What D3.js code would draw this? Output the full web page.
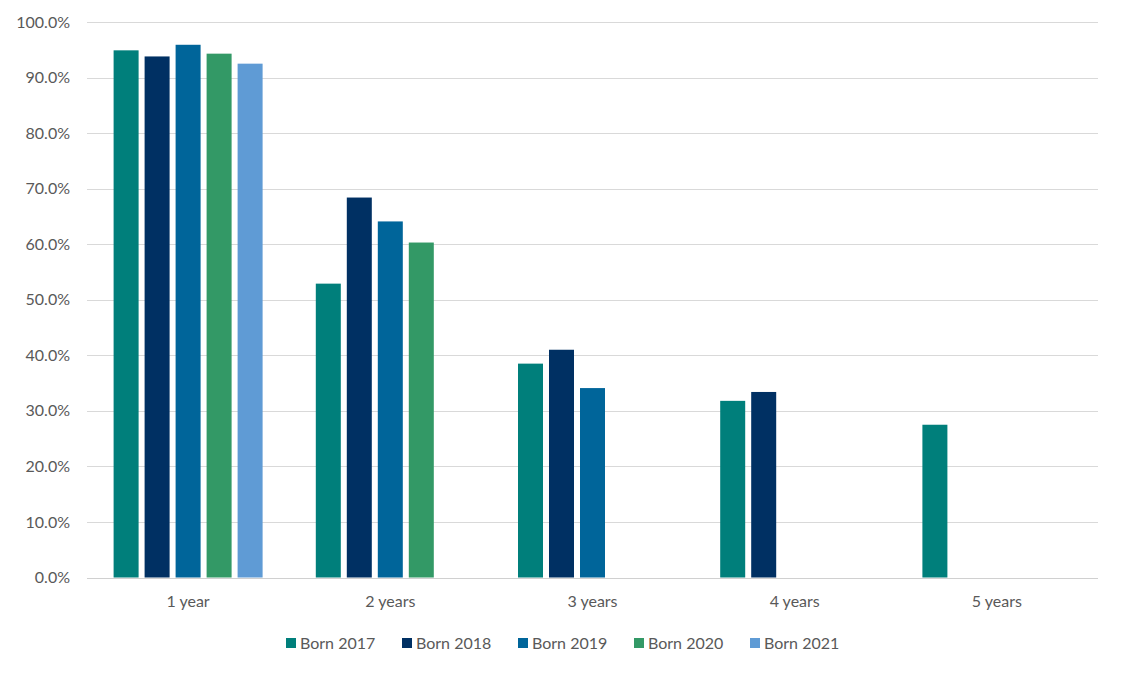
<!DOCTYPE html>
<html>
<head>
<meta charset="utf-8">
<script src="https://cdn.jsdelivr.net/npm/d3@7"></script>
<style>
  html, body { margin: 0; padding: 0; background: #fff; }
  svg text { font-family: Lato, "Open Sans", sans-serif; fill: #595959; }
</style>
</head>
<body>
<svg id="chart" width="1121" height="673"></svg>
<script>
const categories = ["1 year", "2 years", "3 years", "4 years", "5 years"];
const series = ["Born 2017", "Born 2018", "Born 2019", "Born 2020", "Born 2021"];
const born2017 = [94.9, 52.9, 38.5, 31.8, 27.5];
const born2018 = [93.8, 68.4, 41.0, 33.4, null];
const born2019 = [95.9, 64.1, 34.1, null, null];
const born2020 = [94.3, 60.3, null, null, null];
const born2021 = [92.5, null, null, null, null];
const yTicks = [0, 10, 20, 30, 40, 50, 60, 70, 80, 90, 100];
const colors = ["#007F7B", "#003063", "#00659A", "#339966", "#5F9BD5"];

const values = [born2017, born2018, born2019, born2020, born2021];

const svg = d3.select("#chart");
const mLeft = 87, mRight = 1098, mTop = 22, mBottom = 577.5;

const y = d3.scaleLinear().domain([0, 100]).range([mBottom, mTop]);
const x0 = d3.scaleBand().domain(categories).range([mLeft, mRight]).padding(0);
const groupW = 149;
const x1 = d3.scaleBand().domain(series).range([0, groupW]).paddingInner(6 / 31).paddingOuter(0);
const color = d3.scaleOrdinal().domain(series).range(colors);

// gridlines
svg.append("g").selectAll("line").data(yTicks).join("line")
  .attr("x1", mLeft).attr("x2", mRight)
  .attr("y1", d => Math.round(y(d)) + 0.5).attr("y2", d => Math.round(y(d)) + 0.5)
  .attr("stroke", "#d9d9d9").attr("stroke-width", 1);

// y labels
svg.append("g").selectAll("text").data(yTicks).join("text")
  .attr("x", 70).attr("y", d => y(d))
  .attr("dy", "0.35em").attr("text-anchor", "end")
  .style("font-size", "16px")
  .text(d => d3.format(".1f")(d) + "%");

// bars
const data = [];
categories.forEach((c, i) => series.forEach((s, j) => {
  if (values[j][i] != null) data.push({ c, s, v: values[j][i] });
}));
const off = (x0.bandwidth() - groupW) / 2;
svg.append("g").selectAll("rect").data(data).join("rect")
  .attr("x", d => x0(d.c) + off + x1(d.s))
  .attr("y", d => y(d.v))
  .attr("width", x1.bandwidth())
  .attr("height", d => y(0) - y(d.v))
  .attr("fill", d => color(d.s));

// baseline
svg.append("line").attr("x1", mLeft).attr("x2", mRight)
  .attr("y1", Math.round(y(0)) + 0.5).attr("y2", Math.round(y(0)) + 0.5)
  .attr("stroke", "#d0d0d0").attr("stroke-width", 1);

// x labels
svg.append("g").selectAll("text").data(categories).join("text")
  .attr("x", d => x0(d) + x0.bandwidth() / 2).attr("y", 607)
  .attr("text-anchor", "middle").style("font-size", "16px")
  .text(d => d);

// legend
const legendXs = [286, 402, 518, 634, 750];
const lg = svg.append("g").selectAll("g").data(series).join("g")
  .attr("transform", (d, i) => `translate(${legendXs[i]},643)`);
lg.append("rect").attr("x", 0).attr("y", -5).attr("width", 10).attr("height", 10)
  .attr("fill", d => color(d));
lg.append("text").attr("x", 14).attr("y", 0).attr("dy", "0.35em")
  .style("font-size", "16px").text(d => d);
</script>
</body>
</html>
